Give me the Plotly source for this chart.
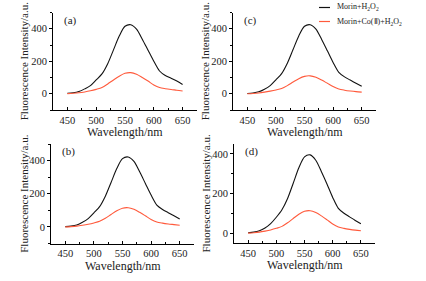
import plotly.graph_objects as go

wavelength = [450, 460, 470, 480, 490, 500, 510, 520, 530, 540, 550, 560, 570, 580, 590, 600, 610, 620, 630, 640, 650]

black_a = [3, 6, 14, 30, 50, 85, 122, 185, 270, 355, 415, 425, 398, 336, 268, 200, 140, 112, 96, 78, 57]
red_a = [1, 3, 6, 11, 18, 27, 38, 60, 85, 108, 126, 130, 120, 100, 78, 54, 38, 31, 26, 22, 17]

black_b = [2, 5, 12, 28, 50, 85, 122, 185, 268, 352, 412, 422, 395, 332, 262, 192, 132, 105, 86, 67, 48]
red_b = [0, 2, 5, 10, 16, 24, 34, 52, 75, 97, 113, 116, 106, 88, 67, 45, 30, 23, 18, 14, 10]

black_c = [2, 5, 12, 28, 50, 86, 124, 188, 272, 356, 415, 425, 398, 334, 264, 193, 132, 104, 84, 65, 46]
red_c = [0, 2, 5, 10, 16, 23, 32, 50, 72, 93, 107, 110, 101, 84, 64, 44, 29, 22, 17, 13, 10]

black_d = [2, 5, 12, 26, 48, 80, 118, 175, 252, 330, 385, 395, 368, 310, 247, 180, 125, 100, 82, 64, 47]
red_d = [0, 2, 5, 10, 16, 24, 34, 52, 74, 95, 110, 113, 104, 87, 67, 46, 31, 24, 19, 15, 12]

panel_labels = ["(a)", "(b)", "(c)", "(d)"]
series_names = ["Morin+H<sub>2</sub>O<sub>2</sub>", "Morin+Co(Ⅱ)+H<sub>2</sub>O<sub>2</sub>"]
x_title = "Wavelength/nm"
y_title = "Fluorescence Intensity/a.u."

W, H = 426, 281
FONT = "Liberation Serif, Times New Roman, serif"
BLACK = "#111111"
RED = "#ff5a3c"

# pixel boxes: (x0, x1, ytop, ybottom)
panels = [
    dict(key="a", black=black_a, red=red_a, box=(53, 197, 12.5, 110), yr=[-100, 500], xt=24, xtitle_y=132),
    dict(key="b", black=black_b, red=red_b, box=(51, 194, 144, 243.5), yr=[-100, 500], xt=24, xtitle_y=265.5),
    dict(key="c", black=black_c, red=red_c, box=(233, 376, 12.5, 110), yr=[-100, 500], xt=205, xtitle_y=132),
    dict(key="d", black=black_d, red=red_d, box=(234, 375, 144, 243), yr=[-50, 450], xt=206, xtitle_y=265),
]

fig = go.Figure()
annotations = []
layout_axes = {}

for i, p in enumerate(panels):
    n = "" if i == 0 else str(i + 1)
    xa, ya = "x" + n, "y" + n
    x0, x1, yt, yb = p["box"]
    fig.add_trace(go.Scatter(x=wavelength, y=p["black"], mode="lines", xaxis=xa, yaxis=ya,
                             line=dict(color=BLACK, width=1.1, shape="spline", smoothing=0.8),
                             showlegend=False))
    fig.add_trace(go.Scatter(x=wavelength, y=p["red"], mode="lines", xaxis=xa, yaxis=ya,
                             line=dict(color=RED, width=1.1, shape="spline", smoothing=0.8),
                             showlegend=False))
    common = dict(showgrid=False, zeroline=False, showline=True, linecolor="black", linewidth=1,
                  tickwidth=1, tickcolor="black",
                  tickfont=dict(family=FONT, size=10.5, color="#222"))
    layout_axes["xaxis" + n] = dict(common, domain=[x0 / W, x1 / W], range=[425, 675],
                                    ticks="inside", ticklen=3,
                                    tickvals=[450, 500, 550, 600, 650], anchor=ya,
                                    minor=dict(ticks="inside", ticklen=2, tickcolor="black", dtick=25, tick0=425))
    layout_axes["yaxis" + n] = dict(common, domain=[1 - yb / H, 1 - yt / H], range=p["yr"],
                                    ticks="outside", ticklen=3,
                                    tickvals=[0, 200, 400], anchor=xa,
                                    minor=dict(ticks="outside", ticklen=2, tickcolor="black", dtick=100, tick0=0))
    # axis titles
    annotations.append(dict(text=x_title, xref="paper", yref="paper", x=(x0 + x1) / 2 / W,
                            y=1 - p["xtitle_y"] / H, showarrow=False, xanchor="center", yanchor="middle",
                            font=dict(family=FONT, size=12, color="#222")))
    annotations.append(dict(text=y_title, xref="paper", yref="paper", x=p["xt"] / W,
                            y=1 - (yt + yb) / 2 / H, showarrow=False, textangle=-90,
                            xanchor="center", yanchor="middle",
                            font=dict(family=FONT, size=11, color="#222")))
    annotations.append(dict(text=panel_labels["abcd".index(p["key"])], xref=xa + " domain", yref=ya + " domain",
                            x=0.065, y=0.92, showarrow=False, xanchor="left", yanchor="middle",
                            font=dict(family=FONT, size=11, color="#222")))

# custom legend (top right of panel c)
shapes = []
for k, (name, col, yy) in enumerate([(series_names[0], BLACK, 7.5), (series_names[1], RED, 21.5)]):
    shapes.append(dict(type="line", xref="paper", yref="paper", x0=319 / W, x1=330 / W,
                       y0=1 - yy / H, y1=1 - yy / H, line=dict(color=col, width=1.2)))
    annotations.append(dict(text=name, xref="paper", yref="paper", x=335 / W, y=1 - yy / H,
                            showarrow=False, xanchor="left", yanchor="middle",
                            font=dict(family=FONT, size=8, color="#222")))

fig.update_layout(width=W, height=H, margin=dict(l=0, r=0, t=0, b=0),
                  paper_bgcolor="white", plot_bgcolor="white",
                  annotations=annotations, shapes=shapes, showlegend=False, **layout_axes)

fig.write_html("out.html", config={"displayModeBar": False},
               post_script="document.body.style.margin='0';document.body.style.overflow='hidden';")
